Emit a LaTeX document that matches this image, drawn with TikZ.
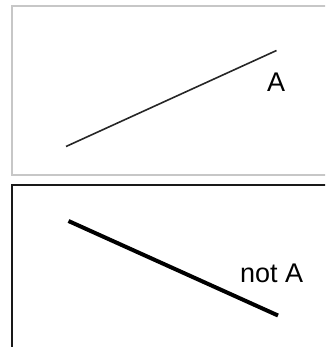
\documentclass[tikz,border=0pt]{standalone}
\usepackage{fontspec}
\setmainfont{Liberation Sans}
\usepackage{xcolor}
\usepackage{tikz}

\begin{document}
\begin{tikzpicture}[
    x=1pt, y=-1pt,
    font=\fontsize{27}{30}\selectfont,
    frame/.style={line width=1.6pt},
    lab/.style={inner sep=0pt, anchor=base west},
  ]
  \useasboundingbox (0,0) rectangle (325,347);
  \clip (0,0) rectangle (325,347);

  %% ---- upper panel: thin line, A ------------------------------------
  \draw[frame, black!22] (12,6) rectangle (340,175);
  \coordinate (a1) at (66,146.5);
  \coordinate (a2) at (276.5,50.5);
  \draw[line width=1.6pt, black!85] (a1) -- (a2);
  \node[lab] (labA) at (267,92) {A};

  %% ---- lower panel: thick line, not A -------------------------------
  \draw[frame, black!90] (12,185) rectangle (340,360);
  \coordinate (b1) at (68.5,221);
  \coordinate (b2) at (278,315.5);
  \draw[line width=4pt] (b1) -- (b2);
  \node[lab] (labNotA) at (240,282) {not A};
\end{tikzpicture}
\end{document}
